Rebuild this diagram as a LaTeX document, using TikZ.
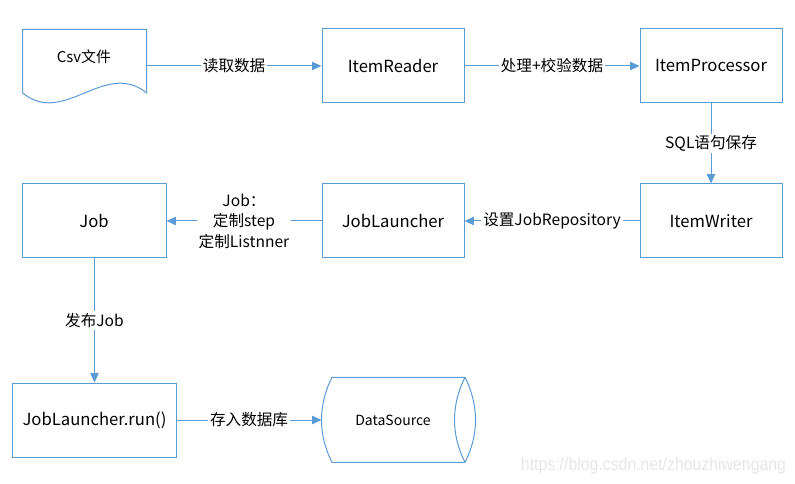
\documentclass[tikz,border=0pt]{standalone}
\usepackage{fontspec}
\usepackage{graphicx}
\setmainfont{Noto Sans CJK SC}
\newfontfamily\wmfont{Liberation Sans}
\usetikzlibrary{arrows.meta}
\definecolor{lc}{HTML}{5B9BD5}
\definecolor{wm}{HTML}{E6E6E6}
\tikzset{
  box/.style={draw=lc, line width=0.75pt, minimum height=55.5pt, inner sep=0pt,
    font=\fontsize{12.5}{15}\selectfont},
  arr/.style={draw=lc, line width=0.75pt, -{Triangle[length=7pt,width=6.2pt]}},
  lbl/.style={fill=white, inner sep=1.5pt, font=\fontsize{11.7}{15.4}\selectfont, align=center},
  shp/.style={draw=lc, line width=0.75pt},
}
\begin{document}
\begin{tikzpicture}[x=0.75pt,y=-0.75pt]
\useasboundingbox (0,0) rectangle (795,484);
% Csv document
\draw[shp] (22.7,93) -- (22.7,29.3) -- (146.7,29.3) -- (146.7,93)
  .. controls (105,59) and (64,127) .. (22.7,93);
\node[font=\fontsize{11.2}{13}\selectfont] (csvt) at (84,57) {Csv文件};
\coordinate (csvE) at (146.7,66);
% boxes
\node[box, minimum width=106.5pt] (reader) at (393,66) {ItemReader};
\node[box, minimum width=106.5pt] (proc) at (711,66) {ItemProcessor};
\node[box, minimum width=106.5pt] (writer) at (711,221) {ItemWriter};
\node[box, minimum width=106.5pt] (launcher) at (393,221) {JobLauncher};
\node[box, minimum width=108pt] (job) at (94,221) {Job};
\node[box, minimum width=122.5pt] (run) at (94.5,420) {JobLauncher.run()};
% DataSource cylinder
\draw[shp] (332,377.3) -- (465,377.3)
  .. controls (479,405) and (479,435) .. (465,462.3) -- (332,462.3)
  .. controls (318,435) and (318,405) .. (332,377.3);
\draw[shp] (465,377.3) .. controls (451,405) and (451,435) .. (465,462.3);
\node[font=\fontsize{10.5}{12}\selectfont] (ds) at (393,420) {DataSource};
\coordinate (dsW) at (321.5,420);
% connectors
\draw[arr] (csvE) -- node[lbl] {读取数据} (reader.west |- csvE);
\draw[arr] (reader) -- node[lbl] {处理+校验数据} (proc);
\draw[arr] (proc) -- node[lbl] {SQL语句保存} (writer);
\draw[arr] (writer) -- node[lbl] {设置JobRepository} (launcher);
\draw[arr] (launcher) -- node[lbl] {Job：\\定制step\\定制Listnner} (job);
\draw[arr] (job.south -| run.north) -- node[lbl] {发布Job} (run.north);
\draw[arr] (run.east) -- node[lbl] {存入数据库} (dsW);
% watermark
\node[text=wm, font=\wmfont\fontsize{13.5}{15}\selectfont, inner sep=0pt] (wmk) at (653.5,466)
  {\scalebox{0.88}[1]{https://blog.csdn.net/zhouzhiwengang}};
\end{tikzpicture}
\end{document}
